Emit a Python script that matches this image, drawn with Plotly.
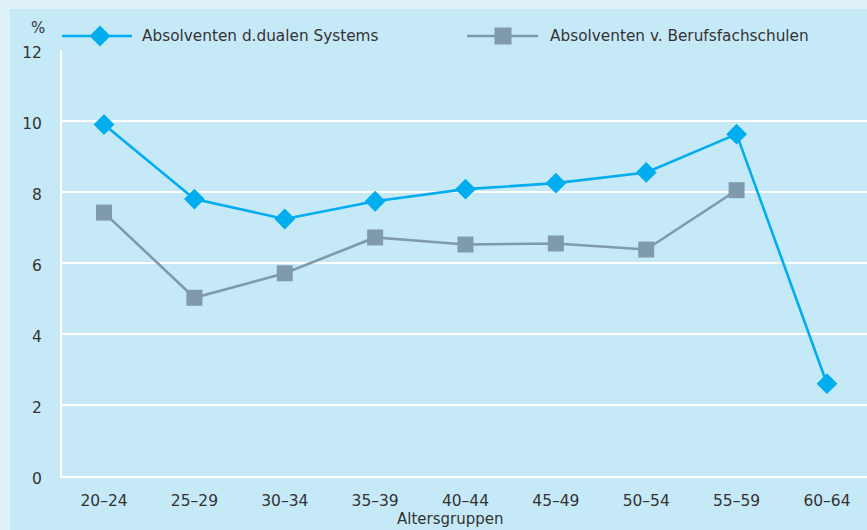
import plotly.graph_objects as go

# Altersgruppen and shares (%) for the two groups of graduates
age_groups = ["20–24", "25–29", "30–34", "35–39", "40–44", "45–49", "50–54", "55–59", "60–64"]
dual_system = [9.9, 7.8, 7.24, 7.74, 8.08, 8.25, 8.55, 9.63, 2.6]
berufsfachschulen = [7.42, 5.02, 5.71, 6.72, 6.52, 6.55, 6.38, 8.05, None]
y_ticks = [0, 2, 4, 6, 8, 10, 12]

name_dual = "Absolventen d.dualen Systems"
name_bfs = "Absolventen v. Berufsfachschulen"

BLUE = "#00adef"
GREY = "#7f9aad"
OUTER_BG = "#dff2fa"
INNER_BG = "#c6e9f8"
TEXT = "#333333"
FONT = "DejaVu Sans"

W, H = 867, 530
M_L, M_R, M_T, M_B = 62, 0, 50, 54
PW, PH = W - M_L - M_R, H - M_T - M_B


def fx(px):
    """pixel x -> paper x"""
    return (px - M_L) / PW


def fy(py):
    """pixel y -> paper y"""
    return (H - M_B - py) / PH


fig = go.Figure()

fig.add_trace(go.Scatter(
    x=age_groups, y=dual_system, name=name_dual, mode="lines+markers",
    line=dict(color=BLUE, width=2.6),
    marker=dict(symbol="diamond", size=16, color=BLUE),
    cliponaxis=False, showlegend=False,
))
fig.add_trace(go.Scatter(
    x=age_groups, y=berufsfachschulen, name=name_bfs, mode="lines+markers",
    line=dict(color=GREY, width=2.6),
    marker=dict(symbol="square", size=16, color=GREY),
    cliponaxis=False, showlegend=False,
))

shapes = [
    # inner panel
    dict(type="rect", xref="paper", yref="paper", layer="below",
         x0=fx(10), x1=fx(W + 5), y0=fy(H + 5), y1=fy(9),
         fillcolor=INNER_BG, line=dict(width=0)),
]

# hand-built legend: long line samples with a marker in the middle
leg_y = 36
items = [
    (name_dual, BLUE, "diamond", 62, 132, 100, 140),
    (name_bfs, GREY, "square", 467, 538, 503, 548),
]
annotations = []
for label, color, sym, lx0, lx1, mx, tx in items:
    shapes.append(dict(type="line", xref="paper", yref="paper",
                       x0=fx(lx0), x1=fx(lx1), y0=fy(leg_y), y1=fy(leg_y),
                       line=dict(color=color, width=2.6)))
    if sym == "diamond":
        r = 10.5
        path = (f"M{fx(mx - r)},{fy(leg_y)} L{fx(mx)},{fy(leg_y - r)} "
                f"L{fx(mx + r)},{fy(leg_y)} L{fx(mx)},{fy(leg_y + r)} Z")
    else:
        r = 8.5
        path = (f"M{fx(mx - r)},{fy(leg_y - r)} L{fx(mx + r)},{fy(leg_y - r)} "
                f"L{fx(mx + r)},{fy(leg_y + r)} L{fx(mx - r)},{fy(leg_y + r)} Z")
    shapes.append(dict(type="path", xref="paper", yref="paper", path=path,
                       fillcolor=color, line=dict(width=0)))
    annotations.append(dict(text=label, xref="paper", yref="paper",
                            x=fx(tx), y=fy(leg_y), xanchor="left", yanchor="middle",
                            showarrow=False, font=dict(size=15.3, color=TEXT, family=FONT)))

annotations.append(dict(text="%", xref="paper", yref="paper", x=fx(37.5), y=fy(28),
                        xanchor="center", yanchor="middle", showarrow=False,
                        font=dict(size=15, color=TEXT, family=FONT)))
annotations.append(dict(text="Altersgruppen", xref="paper", yref="paper", x=fx(450), y=fy(519),
                        xanchor="center", yanchor="middle", showarrow=False,
                        font=dict(size=15, color=TEXT, family=FONT)))

fig.update_layout(
    width=W, height=H,
    margin=dict(l=M_L, r=M_R, t=M_T, b=M_B, pad=0),
    paper_bgcolor=OUTER_BG,
    plot_bgcolor="rgba(0,0,0,0)",
    font=dict(family=FONT, size=15.5, color=TEXT),
    shapes=shapes,
    annotations=annotations,
    showlegend=False,
)
fig.update_xaxes(
    type="category", categoryorder="array", categoryarray=age_groups,
    range=[-0.465, 8.443], showgrid=False, zeroline=False,
    showline=True, linecolor="white", linewidth=2,
    ticks="", ticklabelstandoff=9, fixedrange=True,
)
fig.update_yaxes(
    range=[0, 12], tickvals=y_ticks, showgrid=True, gridcolor="white", gridwidth=2,
    zeroline=False, showline=True, linecolor="white", linewidth=2,
    ticks="", ticklabelstandoff=15, ticklabelshift=3, fixedrange=True,
)

fig.write_html("out.html", config={"displayModeBar": False})
